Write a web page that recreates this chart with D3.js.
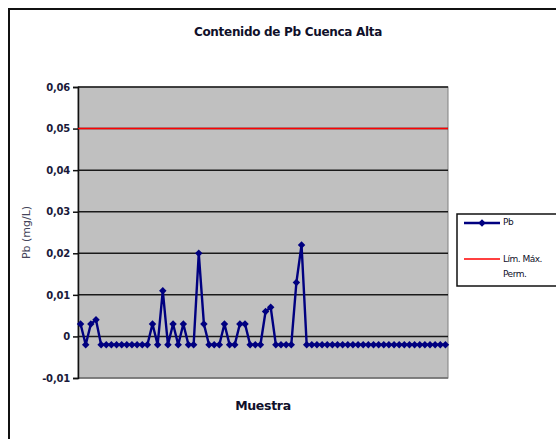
<!DOCTYPE html>
<html>
<head>
<meta charset="utf-8">
<script src="https://cdn.jsdelivr.net/npm/d3@7"></script>
<style>
  html, body { margin: 0; padding: 0; background: #fff; }
  svg { display: block; font-family: "DejaVu Sans", "Liberation Sans", Arial, sans-serif; }
</style>
</head>
<body>
<svg id="chart" width="556" height="439"></svg>
<script>
// Pb concentration per sample (mg/L)
const pbValues = [
  0.003, -0.002, 0.003, 0.004, -0.002, -0.002, -0.002, -0.002, -0.002, -0.002,
  -0.002, -0.002, -0.002, -0.002, 0.003, -0.002, 0.011, -0.002, 0.003, -0.002,
  0.003, -0.002, -0.002, 0.020, 0.003, -0.002, -0.002, -0.002, 0.003, -0.002,
  -0.002, 0.003, 0.003, -0.002, -0.002, -0.002, 0.006, 0.007, -0.002, -0.002,
  -0.002, -0.002, 0.013, 0.022, -0.002, -0.002, -0.002, -0.002, -0.002, -0.002,
  -0.002, -0.002, -0.002, -0.002, -0.002, -0.002, -0.002, -0.002, -0.002, -0.002,
  -0.002, -0.002, -0.002, -0.002, -0.002, -0.002, -0.002, -0.002, -0.002, -0.002,
  -0.002, -0.002
];
// Maximum permissible limit, constant across samples
const limitValue = 0.05;
const samples = pbValues.map((_, i) => i + 1);

const yTicks = [-0.01, 0, 0.01, 0.02, 0.03, 0.04, 0.05, 0.06];
const yTickLabels = ["-0,01", "0", "0,01", "0,02", "0,03", "0,04", "0,05", "0,06"];

const titleText = "Contenido de Pb Cuenca Alta";
const xTitle = "Muestra";
const yTitle = "Pb (mg/L)";
const legendLabels = ["Pb", ["Lím. Máx.", "Perm."]];

const svg = d3.select("#chart");

// chart area frame (runs off the right and bottom edges)
svg.append("rect")
  .attr("x", 9).attr("y", 9).attr("width", 620).attr("height", 500)
  .attr("fill", "#fff").attr("stroke", "#111").attr("stroke-width", 2);

const plot = { left: 78, right: 448, top: 87, bottom: 378 };

const x = d3.scalePoint()
  .domain(samples)
  .range([plot.left, plot.right])
  .padding(0.5);

const y = d3.scaleLinear()
  .domain([-0.01, 0.06])
  .range([plot.bottom, plot.top]);

// plot background
svg.append("rect")
  .attr("x", plot.left).attr("y", plot.top)
  .attr("width", plot.right - plot.left).attr("height", plot.bottom - plot.top)
  .attr("fill", "#c0c0c0").attr("stroke", "#808080").attr("stroke-width", 1);

// horizontal gridlines
svg.append("g")
  .selectAll("line")
  .data(yTicks.filter(v => v > -0.01))
  .join("line")
  .attr("x1", plot.left).attr("x2", plot.right)
  .attr("y1", d => y(d)).attr("y2", d => y(d))
  .attr("stroke", "#1a1a1a").attr("stroke-width", 1.5);

// bottom edge of plot
svg.append("line")
  .attr("x1", plot.left).attr("x2", plot.right)
  .attr("y1", y(-0.01)).attr("y2", y(-0.01))
  .attr("stroke", "#6e6e6e").attr("stroke-width", 1.5);

// y axis
const yAxis = d3.axisLeft(y)
  .tickValues(yTicks)
  .tickFormat((d, i) => yTickLabels[i])
  .tickSize(5)
  .tickPadding(3);

const yAxisG = svg.append("g")
  .attr("transform", `translate(${plot.left},0)`)
  .call(yAxis);
yAxisG.select(".domain").attr("stroke", "#111").attr("stroke-width", 1.5);
yAxisG.selectAll(".tick line").attr("stroke", "#111").attr("stroke-width", 1.5);
yAxisG.selectAll(".tick text")
  .attr("fill", "#1a1a3a")
  .style("font-family", "'DejaVu Sans', sans-serif")
  .style("font-size", "10px")
  .style("font-weight", "bold")
  .style("letter-spacing", "-0.2px");

// limit line
svg.append("line")
  .attr("x1", plot.left).attr("x2", plot.right)
  .attr("y1", y(limitValue)).attr("y2", y(limitValue))
  .attr("stroke", "#ff0000").attr("stroke-width", 1.6);

// Pb series
const line = d3.line()
  .x((d, i) => x(samples[i]))
  .y(d => y(d));

svg.append("path")
  .datum(pbValues)
  .attr("d", line)
  .attr("fill", "none")
  .attr("stroke", "#000080")
  .attr("stroke-width", 2.4);

const diamond = d3.symbol(d3.symbolSquare, 28);
svg.append("g")
  .selectAll("path")
  .data(pbValues)
  .join("path")
  .attr("d", diamond)
  .attr("transform", (d, i) => `translate(${x(samples[i])},${y(d)}) rotate(45)`)
  .attr("fill", "#000080");

// title
svg.append("text")
  .attr("x", 288).attr("y", 36)
  .attr("text-anchor", "middle")
  .attr("fill", "#10102a")
  .style("font-size", "12px")
  .style("font-weight", "bold")
  .style("letter-spacing", "-0.3px")
  .text(titleText);

// axis titles
svg.append("text")
  .attr("x", (plot.left + plot.right) / 2).attr("y", 410)
  .attr("text-anchor", "middle")
  .attr("fill", "#10102a")
  .style("font-size", "12.5px")
  .style("font-weight", "bold")
  .style("letter-spacing", "-0.3px")
  .text(xTitle);

svg.append("text")
  .attr("transform", `translate(30,${(plot.top + plot.bottom) / 2}) rotate(-90)`)
  .attr("text-anchor", "middle")
  .attr("fill", "#45455a")
  .style("font-size", "11px")
  .text(yTitle);

// legend
const legend = svg.append("g");
legend.append("rect")
  .attr("x", 457).attr("y", 214).attr("width", 150).attr("height", 72)
  .attr("fill", "#fff").attr("stroke", "#111").attr("stroke-width", 1.5);

legend.append("line")
  .attr("x1", 464).attr("x2", 500).attr("y1", 223).attr("y2", 223)
  .attr("stroke", "#000080").attr("stroke-width", 2.4);
legend.append("path")
  .attr("d", diamond)
  .attr("transform", "translate(482,223) rotate(45)")
  .attr("fill", "#000080");
legend.append("text")
  .attr("x", 503).attr("y", 225)
  .attr("fill", "#10102a")
  .style("font-size", "9px")
  .style("letter-spacing", "-0.5px")
  .text(legendLabels[0]);

legend.append("line")
  .attr("x1", 464).attr("x2", 500).attr("y1", 259).attr("y2", 259)
  .attr("stroke", "#ff0000").attr("stroke-width", 1.6);
legend.append("text")
  .attr("x", 503).attr("y", 262)
  .attr("fill", "#10102a")
  .style("font-size", "9px")
  .style("letter-spacing", "-0.5px")
  .selectAll("tspan")
  .data(legendLabels[1])
  .join("tspan")
  .attr("x", 503)
  .attr("dy", (d, i) => i === 0 ? 0 : 15)
  .text(d => d);
</script>
</body>
</html>
